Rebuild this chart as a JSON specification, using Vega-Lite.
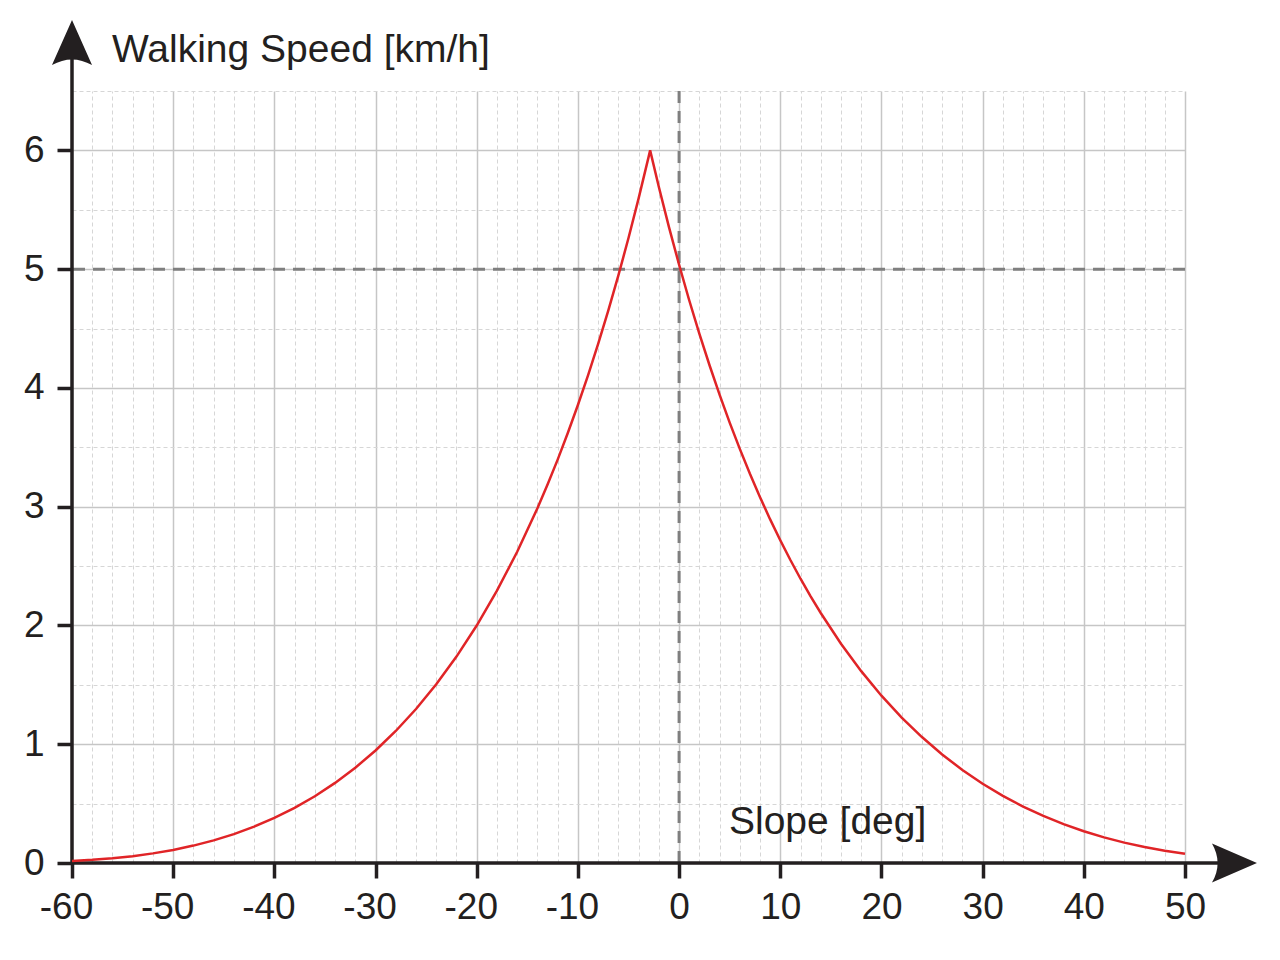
{
  "$schema": "https://vega.github.io/schema/vega-lite/v6.json",
  "width": 1113,
  "height": 772,
  "autosize": "none",
  "padding": {"left": 72, "top": 91, "right": 95, "bottom": 97},
  "background": "white",
  "config": {"view": {"stroke": null}, "font": "Liberation Sans"},
  "datasets": {
    "curve": [
      {"slope": -60, "speed": 0.0167}, {"slope": -58, "speed": 0.0264}, {"slope": -56, "speed": 0.0399},
      {"slope": -54, "speed": 0.0578}, {"slope": -52, "speed": 0.081}, {"slope": -50, "speed": 0.1103},
      {"slope": -48, "speed": 0.1466}, {"slope": -46, "speed": 0.1906}, {"slope": -44, "speed": 0.2433},
      {"slope": -42, "speed": 0.3058}, {"slope": -40, "speed": 0.379}, {"slope": -38, "speed": 0.464},
      {"slope": -36, "speed": 0.5622}, {"slope": -34, "speed": 0.6745}, {"slope": -32, "speed": 0.8021},
      {"slope": -30, "speed": 0.9474}, {"slope": -28, "speed": 1.1114}, {"slope": -26, "speed": 1.2966},
      {"slope": -24, "speed": 1.5047}, {"slope": -22, "speed": 1.7381}, {"slope": -20, "speed": 1.9994},
      {"slope": -18, "speed": 2.2928}, {"slope": -16, "speed": 2.6204}, {"slope": -14, "speed": 2.9869},
      {"slope": -13, "speed": 3.186}, {"slope": -12, "speed": 3.3962}, {"slope": -11, "speed": 3.62},
      {"slope": -10, "speed": 3.8562}, {"slope": -9, "speed": 4.106}, {"slope": -8, "speed": 4.3709},
      {"slope": -7, "speed": 4.6505}, {"slope": -6, "speed": 4.9476}, {"slope": -5, "speed": 5.262},
      {"slope": -4, "speed": 5.596}, {"slope": -3, "speed": 5.9496}, {"slope": -2.862, "speed": 6.0},
      {"slope": -2, "speed": 5.6916}, {"slope": -1, "speed": 5.354}, {"slope": 0, "speed": 5.0368},
      {"slope": 1, "speed": 4.738}, {"slope": 2, "speed": 4.4574}, {"slope": 3, "speed": 4.193},
      {"slope": 4, "speed": 3.9434}, {"slope": 5, "speed": 3.708}, {"slope": 6, "speed": 3.4866},
      {"slope": 7, "speed": 3.277}, {"slope": 8, "speed": 3.0802}, {"slope": 9, "speed": 2.893},
      {"slope": 10, "speed": 2.7174}, {"slope": 11, "speed": 2.551}, {"slope": 12, "speed": 2.3934},
      {"slope": 13, "speed": 2.245}, {"slope": 14, "speed": 2.1048}, {"slope": 16, "speed": 1.8461},
      {"slope": 18, "speed": 1.6152}, {"slope": 20, "speed": 1.4088}, {"slope": 22, "speed": 1.2245},
      {"slope": 24, "speed": 1.0603}, {"slope": 26, "speed": 0.9137}, {"slope": 28, "speed": 0.7831},
      {"slope": 30, "speed": 0.6677}, {"slope": 32, "speed": 0.5652}, {"slope": 34, "speed": 0.4751},
      {"slope": 36, "speed": 0.3962}, {"slope": 38, "speed": 0.327}, {"slope": 40, "speed": 0.2672},
      {"slope": 42, "speed": 0.2155}, {"slope": 44, "speed": 0.1715}, {"slope": 46, "speed": 0.1343},
      {"slope": 48, "speed": 0.1033}, {"slope": 50, "speed": 0.0777}
    ],
    "labels": [
      {"x": -56.05, "y": 6.744, "text": "Walking Speed [km/h]"},
      {"x": 4.93, "y": 0.244, "text": "Slope [deg]"}
    ],
    "arrows": [
      {"x": -60, "y": 6.908, "dir": "up"},
      {"x": 54.89, "y": 0, "dir": "right"}
    ],
    "one": [{}]
  },
  "resolve": {"axis": {"x": "independent", "y": "independent"}},
  "layer": [
    {
      "data": {"name": "one"},
      "mark": {"type": "rule", "color": "#7f7f7f", "strokeWidth": 3, "strokeDash": [12, 8]},
      "encoding": {
        "y": {
          "datum": 5, "type": "quantitative",
          "scale": {"domain": [0, 6.5], "nice": false, "zero": false},
          "axis": {
            "orient": "left", "values": [0.5, 1, 1.5, 2, 2.5, 3, 3.5, 4, 4.5, 5, 5.5, 6, 6.5],
            "grid": true, "gridColor": "#d6d6d6", "gridWidth": 1, "gridDash": [4, 3],
            "ticks": false, "labels": false, "domain": false, "title": null
          }
        }
      }
    },
    {
      "data": {"name": "one"},
      "mark": {"type": "rule", "color": "#7f7f7f", "strokeWidth": 3, "strokeDash": [12, 8]},
      "encoding": {
        "x": {
          "datum": 0, "type": "quantitative",
          "scale": {"domain": [-60, 50], "nice": false, "zero": false},
          "axis": {
            "orient": "bottom",
            "values": [-58, -56, -54, -52, -48, -46, -44, -42, -38, -36, -34, -32, -28, -26, -24, -22, -18, -16, -14, -12, -8, -6, -4, -2, 2, 4, 6, 8, 12, 14, 16, 18, 22, 24, 26, 28, 32, 34, 36, 38, 42, 44, 46, 48],
            "grid": true, "gridColor": "#d6d6d6", "gridWidth": 1, "gridDash": [4, 3],
            "ticks": false, "labels": false, "domain": false, "title": null
          }
        }
      }
    },
    {
      "data": {"name": "one"},
      "mark": {"type": "rule", "color": "#231f20", "strokeWidth": 3.5},
      "encoding": {
        "x": {
          "datum": -60, "type": "quantitative",
          "axis": {
            "orient": "bottom",
            "values": [-60, -50, -40, -30, -20, -10, 0, 10, 20, 30, 40, 50],
            "grid": true, "gridColor": "#c6c6c6", "gridWidth": 1.5,
            "ticks": true, "tickSize": 15, "tickWidth": 3.5, "tickColor": "#231f20",
            "labelFontSize": 37, "labelColor": "#231f20", "labelPadding": 11,
            "labelFont": "Liberation Sans",
            "labelExpr": "datum.value + ''",
            "labelOffset": {"condition": {"test": "datum.value < 0", "value": -6}, "value": 0},
            "labelFlush": false, "labelOverlap": false, "labelBound": false,
            "domain": false, "title": null
          }
        },
        "y": {
          "datum": 0, "type": "quantitative",
          "axis": {
            "orient": "left",
            "values": [0, 1, 2, 3, 4, 5, 6],
            "grid": true, "gridColor": "#c6c6c6", "gridWidth": 1.5,
            "ticks": true, "tickSize": 15, "tickWidth": 3.5, "tickColor": "#231f20",
            "labelFontSize": 37, "labelColor": "#231f20", "labelPadding": 13,
            "labelFont": "Liberation Sans",
            "labelFlush": false, "labelOverlap": false, "labelBound": false,
            "domain": false, "title": null
          }
        },
        "y2": {"datum": 6.85}
      }
    },
    {
      "data": {"name": "one"},
      "mark": {"type": "rule", "color": "#231f20", "strokeWidth": 3.5},
      "encoding": {
        "x": {"datum": -60, "type": "quantitative", "axis": null},
        "x2": {"datum": 54},
        "y": {"datum": 0, "type": "quantitative", "axis": null}
      }
    },
    {
      "data": {"name": "curve"},
      "mark": {"type": "line", "color": "#e02427", "strokeWidth": 2.5, "interpolate": "linear", "strokeJoin": "miter"},
      "encoding": {
        "x": {"field": "slope", "type": "quantitative", "axis": null},
        "y": {"field": "speed", "type": "quantitative", "axis": null}
      }
    },
    {
      "data": {"name": "arrows"},
      "mark": {"type": "point", "filled": true, "size": 2025, "opacity": 1, "color": "#231f20", "strokeWidth": 0},
      "encoding": {
        "x": {"field": "x", "type": "quantitative", "axis": null},
        "y": {"field": "y", "type": "quantitative", "axis": null},
        "shape": {
          "field": "dir", "type": "nominal", "legend": null,
          "scale": {
            "domain": ["up", "right"],
            "range": ["M0,-1 L0.89,1 Q0,0.5 -0.89,1 Z", "M1,0 L-1,0.87 Q-0.5,0 -1,-0.87 Z"]
          }
        }
      }
    },
    {
      "data": {"name": "labels"},
      "mark": {"type": "text", "align": "left", "baseline": "alphabetic", "fontSize": 39, "font": "Liberation Sans", "color": "#231f20"},
      "encoding": {
        "x": {"field": "x", "type": "quantitative", "axis": null},
        "y": {"field": "y", "type": "quantitative", "axis": null},
        "text": {"field": "text"}
      }
    }
  ]
}
